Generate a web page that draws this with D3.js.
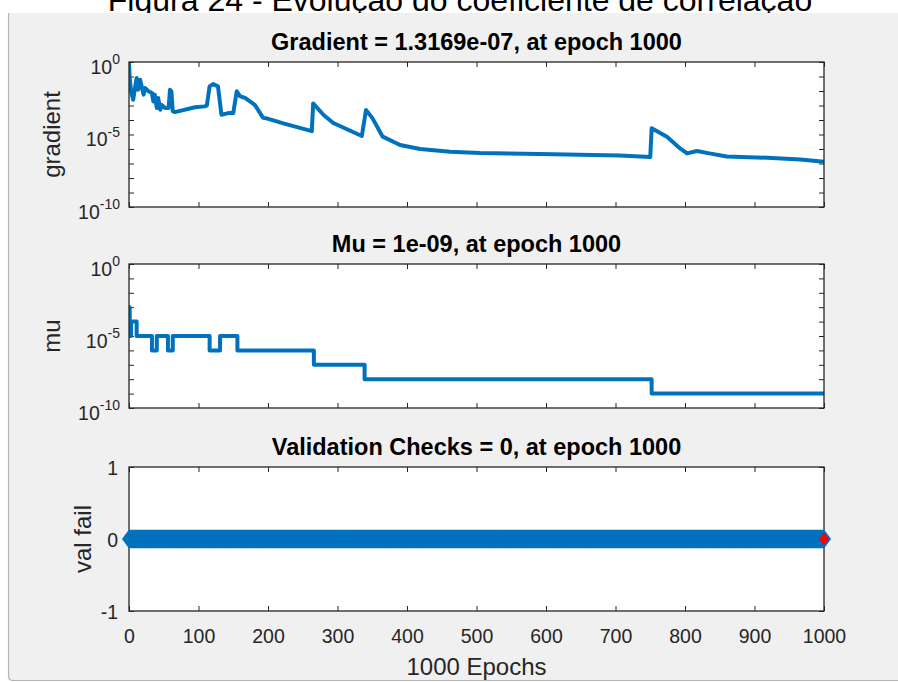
<!DOCTYPE html>
<html><head><meta charset="utf-8">
<script src="https://cdn.jsdelivr.net/npm/d3@7"></script>
<style>
body{margin:0;background:#fff}
svg{display:block}
text{font-family:"Liberation Sans",Arial,Helvetica,sans-serif}
</style>
</head><body>
<svg id="c" width="898" height="682"></svg>
<script>
// ---------------- data ----------------
const figureTitle = "Figura 24 - Evolução do coeficiente de correlação";
const titles = ["Gradient = 1.3169e-07, at epoch 1000", "Mu = 1e-09, at epoch 1000", "Validation Checks = 0, at epoch 1000"];
const yLabels = ["gradient", "mu", "val fail"];
const xLabel = "1000 Epochs";
const epochTicks = [0,100,200,300,400,500,600,700,800,900,1000];
const logTicks = [1e0,1e-1,1e-2,1e-3,1e-4,1e-5,1e-6,1e-7,1e-8,1e-9,1e-10];
const logTickLabels = [{v:1e0,e:"0"},{v:1e-5,e:"-5"},{v:1e-10,e:"-10"}];
const valTicks = [-1,0,1];

const gradEpochs = [0,1,3,6,9,11,13,16,21,23,28,33,35,37,40,42,45,47,52,57,59,61,63,66,95,109,112,116,121,128,133,143,150,155,160,167,181,193,198,222,263,265,280,294,335,341,350,365,390,419,462,505,591,706,750,752,774,793,803,817,835,860,918,966,1000];
const gradValues = [0.85,7.9e-2,1.0e-2,2.5e-3,2.1e-2,7.9e-2,1.2e-2,6.0e-2,5.6e-3,1.6e-2,9.5e-3,7.2e-3,1.9e-3,5.6e-3,6.8e-4,3.3e-3,5.1e-4,1.1e-3,6.8e-4,6.8e-4,1.2e-2,9.5e-3,4.0e-4,3.5e-4,7.6e-4,8.7e-4,1.0e-3,2.1e-2,3.0e-2,2.1e-2,2.3e-4,3.0e-4,3.0e-4,9.5e-3,4.3e-3,3.3e-3,1.1e-3,1.4e-4,1.3e-4,5.9e-5,1.7e-5,1.4e-3,2.2e-4,6.2e-5,7.9e-6,4.9e-4,1.4e-4,7.1e-6,1.9e-6,1.0e-6,6.5e-7,5.2e-7,4.6e-7,3.5e-7,2.8e-7,2.7e-5,7.1e-6,1.1e-6,5.0e-7,7.2e-7,5.0e-7,3.0e-7,2.5e-7,1.9e-7,1.3169e-7];

const muEpochs = [0,1,3,5,11,33,40,56,63,116,131,156,266,339,752,1000];
const muValues = [1e-3,1e-5,1e-4,1e-4,1e-5,1e-6,1e-5,1e-6,1e-5,1e-6,1e-5,1e-6,1e-7,1e-8,1e-9,1e-9];

const valFailFirstEpoch = 0, valFailLastEpoch = 1000, valFailValue = 0;
const bestEpoch = 1000;

// ---------------- layout ----------------
const blue = "#0072BD", axisCol = "#262626";
const svg = d3.select("#c");
svg.append("text").attr("x",460).attr("y",11).attr("text-anchor","middle")
  .attr("font-size",32).attr("fill","#000").text(figureTitle);
svg.append("rect").attr("x",8).attr("y",13).attr("width",890).attr("height",667).attr("fill","#f0f0f0");
svg.append("path").attr("d","M8.5,13V676Q8.5,680.5,13,680.5H898").attr("fill","none").attr("stroke","#b4b4b4").attr("stroke-width",1.2);

const L = 129, R = 824;
const x = d3.scaleLinear().domain([0,1000]).range([L,R]);
const panels = [{top:62,bottom:207},{top:264,bottom:408},{top:467,bottom:611}];
const yG = d3.scaleLog().domain([1e-10,1]).range([panels[0].bottom,panels[0].top]);
const yM = d3.scaleLog().domain([1e-10,1]).range([panels[1].bottom,panels[1].top]);
const yV = d3.scaleLinear().domain([-1,1]).range([panels[2].bottom,panels[2].top]);
const yScales = [yG,yM,yV];

function styleAxis(g){
  g.select(".domain").remove();
  g.selectAll(".tick line").attr("stroke",axisCol).attr("stroke-width",1);
}

panels.forEach((p,i)=>{
  const g = svg.append("g");
  g.append("rect").attr("x",L).attr("y",p.top).attr("width",R-L).attr("height",p.bottom-p.top).attr("fill","#fff");
  const cid = "clip"+i;
  svg.append("clipPath").attr("id",cid).append("rect").attr("x",L).attr("y",p.top-1).attr("width",R-L+1).attr("height",p.bottom-p.top+2);
  const y = yScales[i];
  // x ticks
  g.append("g").attr("transform",`translate(0,${p.bottom})`)
    .call(d3.axisBottom(x).tickValues(epochTicks).tickSizeInner(-5).tickSizeOuter(0).tickFormat(i===2?(d=>String(d)):""))
    .call(styleAxis)
    .call(a=>a.selectAll("text").attr("y",null).attr("dy",null).attr("transform","translate(0,32)")
       .attr("font-size",19.5).attr("fill",axisCol).attr("font-family",null));
  g.append("g").attr("transform",`translate(0,${p.top})`)
    .call(d3.axisTop(x).tickValues(epochTicks).tickSizeInner(-5).tickSizeOuter(0).tickFormat(""))
    .call(styleAxis);
  // y ticks
  const tv = i<2 ? logTicks : valTicks;
  g.append("g").attr("transform",`translate(${L},0)`)
    .call(d3.axisLeft(y).tickValues(tv).tickSizeInner(-5).tickSizeOuter(0).tickFormat(""))
    .call(styleAxis);
  g.append("g").attr("transform",`translate(${R},0)`)
    .call(d3.axisRight(y).tickValues(tv).tickSizeInner(-5).tickSizeOuter(0).tickFormat(""))
    .call(styleAxis);
  // y tick labels
  if(i<2){
    logTickLabels.forEach(t=>{
      const tx = g.append("text").attr("x",120).attr("y",y(t.v)+11.5).attr("text-anchor","end")
        .attr("font-size",19.5).attr("fill",axisCol);
      tx.append("tspan").text("10");
      tx.append("tspan").attr("font-size",14).attr("dy",-9.5).text(t.e);
    });
  } else {
    valTicks.forEach(v=>{
      g.append("text").attr("x",118).attr("y",y(v)+7.5).attr("text-anchor","end")
        .attr("font-size",19.5).attr("fill",axisCol).text(String(v));
    });
  }
  // title
  svg.append("text").attr("x",(L+R)/2).attr("y",p.top-12).attr("text-anchor","middle")
    .attr("font-size",23.5).attr("font-weight","bold").attr("fill","#000").text(titles[i]);
  // y label
  const lx = i<2 ? 60 : 91;
  const ly = (p.top+p.bottom)/2;
  svg.append("text").attr("transform",`translate(${lx},${ly}) rotate(-90)`).attr("text-anchor","middle")
    .attr("font-size",24).attr("fill",axisCol).text(yLabels[i]);
  p.g = g; p.cid = cid;
});

// gradient line
const gradData = gradEpochs.map((e,k)=>({e, v:gradValues[k]}));
panels[0].g.append("path").datum(gradData).attr("clip-path","url(#clip0)")
  .attr("fill","none").attr("stroke",blue).attr("stroke-width",4).attr("stroke-linejoin","round")
  .attr("d", d3.line().x(d=>x(d.e)).y(d=>yG(d.v)));

// mu line
const muData = muEpochs.map((e,k)=>({e, v:muValues[k]}));
panels[1].g.append("path").datum(muData).attr("clip-path","url(#clip1)")
  .attr("fill","none").attr("stroke",blue).attr("stroke-width",4).attr("stroke-linejoin","round")
  .attr("d", d3.line().curve(d3.curveStepAfter).x(d=>x(d.e)).y(d=>yM(d.v)));

// validation fail: one diamond per epoch
const valData = d3.range(valFailFirstEpoch, valFailLastEpoch+1).map(e=>({e, v:valFailValue}));
const vg = panels[2].g.append("g");
vg.append("path").datum(valData).attr("fill","none").attr("stroke",blue).attr("stroke-width",4)
  .attr("d", d3.line().x(d=>x(d.e)).y(d=>yV(d.v)));
vg.selectAll("path.m").data(valData).join("path").attr("class","m")
  .attr("transform",d=>`translate(${x(d.e)},${yV(d.v)})`)
  .attr("d","M0,-9.5L7,0L0,9.5L-7,0Z").attr("fill",blue);
vg.append("path").attr("transform",`translate(${x(bestEpoch)},${yV(valFailValue)})`)
  .attr("d","M0,-6.5L5,0L0,6.5L-5,0Z").attr("fill","#ff0000");

// boxes on top
panels.forEach(p=>{
  svg.append("rect").attr("x",L).attr("y",p.top).attr("width",R-L).attr("height",p.bottom-p.top)
    .attr("fill","none").attr("stroke",axisCol).attr("stroke-width",1.3);
});
// redraw red/blue markers above box (MATLAB markers are not clipped)
svg.node().appendChild(vg.node());

// x label
svg.append("text").attr("x",(L+R)/2).attr("y",675).attr("text-anchor","middle")
  .attr("font-size",24).attr("fill",axisCol).text(xLabel);
</script>
</body></html>
